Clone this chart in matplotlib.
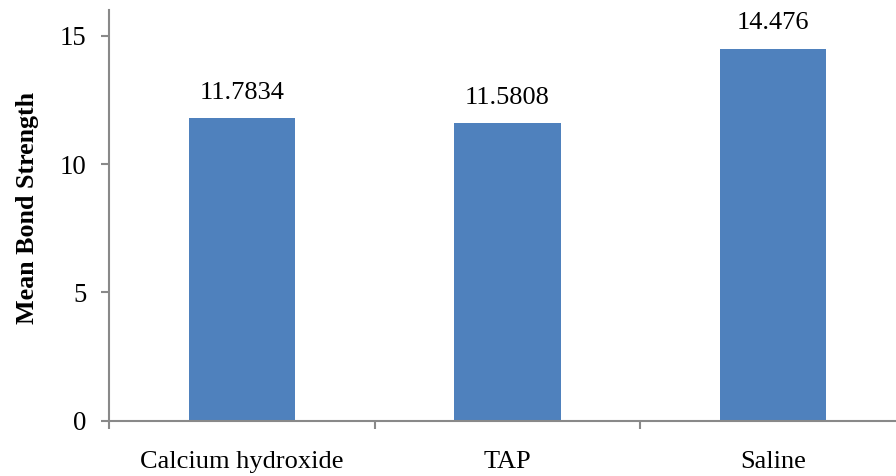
import matplotlib
matplotlib.use("Agg")
import matplotlib.pyplot as plt

categories = ["Calcium hydroxide", "TAP", "Saline"]
values = [11.7834, 11.5808, 14.476]
labels = ["11.7834", "11.5808", "14.476"]
yticks = [0, 5, 10, 15]

plt.rcParams['font.family'] = ['Liberation Serif', 'DejaVu Serif']

fig = plt.figure(figsize=(8.96, 4.76), dpi=100)
ax = fig.add_axes([109.25/896, 55.3/476, 796.5/896, 410.7/476])

x = range(len(categories))
bars = ax.bar(x, values, width=0.4, color="#4F81BD")
for xi, v, lab in zip(x, values, labels):
    ax.annotate(lab, (xi, v), xytext=(0, 18.5), textcoords="offset points",
                ha="center", va="center", fontsize=19)

ax.set_xlim(-0.5, 2.5)
ax.set_ylim(0, 16)
ax.set_yticks(yticks)
ax.set_yticklabels([str(t) for t in yticks], fontsize=19.3)
ax.set_xticks(x)
ax.set_xticklabels(categories, fontsize=19)
ax.set_xticks([-0.5, 0.5, 1.5, 2.5], minor=True)
ax.tick_params(axis="x", which="major", length=0, pad=22)
ax.tick_params(axis="x", which="minor", length=6, width=1.5, color="#898989")
ax.tick_params(axis="y", length=6, width=1.5, color="#898989", pad=10.5)

for s in ["top", "right"]:
    ax.spines[s].set_visible(False)
for s in ["left", "bottom"]:
    ax.spines[s].set_color("#898989")
    ax.spines[s].set_linewidth(1.5)

ax.set_ylabel("Mean Bond Strength", fontsize=18.7, fontweight="bold")
ax.yaxis.set_label_coords(-0.088, 0.517)

fig.savefig("out.png", dpi=100)
